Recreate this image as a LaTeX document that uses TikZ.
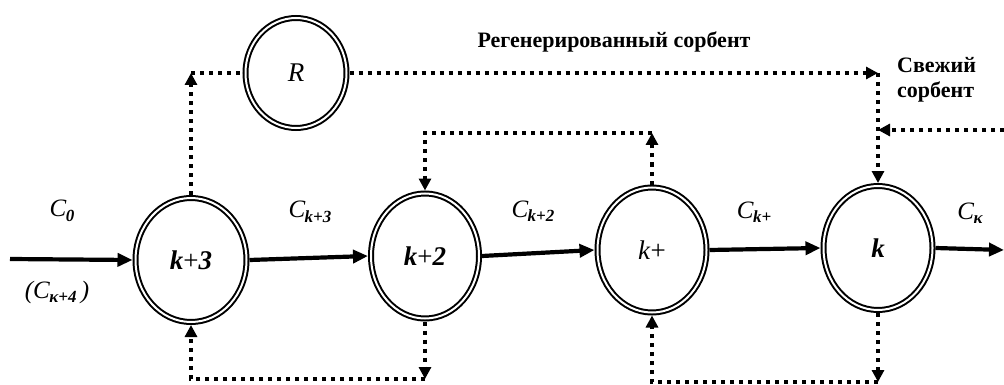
\documentclass[tikz,border=0pt]{standalone}
\usepackage{fontspec}
\setmainfont{Liberation Serif}
\usetikzlibrary{shapes.geometric,arrows.meta}
\newcommand\Clab[2][]{{\fontsize{25}{27}\selectfont\itshape #1C\kern-0.5pt\raisebox{-4.5pt}{\fontsize{17}{18}\selectfont\bfseries #2}}}
\begin{document}
\begin{tikzpicture}[x=1pt,y=-1pt,
  stage/.style={ellipse,draw,line width=2pt,double,double distance=2pt,inner sep=0pt,outer sep=3pt},
  flow/.style={line width=4.2pt,-{Triangle[length=15pt,width=13pt]}},
  dotl/.style={line width=4pt,dash pattern=on 4pt off 5pt},
  dotarr/.style={dotl,-{Triangle[length=12pt,width=12pt]}},
  lbl/.style={inner sep=0pt},
  ttl/.style={inner sep=0pt,font=\fontsize{22}{26}\selectfont\bfseries},
  nlab/.style={font=\fontsize{27}{29}\selectfont}]
\useasboundingbox (0,0) rectangle (1004,385);
% stages
\node[stage,minimum width=111pt,minimum height=124pt,nlab] (k3) at (191,260) {\textbf{\textit{k}}+\textbf{\textit{3}}};
\node[stage,minimum width=108pt,minimum height=125pt,nlab] (k2) at (425,256) {\textbf{\textit{k}}+\textbf{\textit{2}}};
\node[stage,minimum width=109pt,minimum height=125pt,nlab] (kp) at (652,250) {\textit{k}+};
\node[stage,minimum width=109pt,minimum height=124pt,nlab] (k) at (878,248) {\textbf{\textit{k}}};
\node[stage,minimum width=101pt,minimum height=110pt,font=\fontsize{27}{29}\selectfont] (R) at (296,73) {\textit{R}};
% main flow
\coordinate (in) at (10,259);
\coordinate (out) at (1004,250);
\draw[flow] (in) -- (k3.west);
\draw[flow] (k3.east) -- (k2.west);
\draw[flow] (k2.east) -- (kp.west);
\draw[flow] (kp.east) -- (k.west);
\draw[flow] (k.east) -- (out);
% sorbent loops
\coordinate (a1) at (191,73);
\coordinate (a2) at (878,73);
\coordinate (a3) at (878,130);
\coordinate (fr) at (1004,130);
\coordinate (b1) at (652,133);
\coordinate (b2) at (425,133);
\coordinate (c1) at (425,379);
\coordinate (c2) at (191,379);
\coordinate (d1) at (878,382);
\coordinate (d2) at (652,382);
\draw[dotarr] (k3.north) -- (a1);
\draw[dotl] (a1) -- (R.west);
\draw[dotarr] (R.east) -- (a2);
\draw[dotarr] (a2) -- (k.north);
\draw[dotarr] (fr) -- (a3);
\draw[dotarr] (kp.north) -- (b1);
\draw[dotarr] (b1) -- (b2) -- (k2.north);
\draw[dotarr] (k2.south) -- (c1);
\draw[dotarr] (c1) -- (c2) -- (k3.south);
\draw[dotarr] (k.south) -- (d1);
\draw[dotarr] (d1) -- (d2) -- (kp.south);
% labels
\node[lbl] (l0) at (62,211) {\Clab{\textit{0}}};
\node[lbl] (l4) at (57,292) {\Clab[(]{\textit{κ+4}}\fontsize{25}{27}\selectfont\itshape\,)};
\node[lbl] (l3) at (310,212) {\Clab{\textit{k+3}}};
\node[lbl] (l2) at (533,211) {\Clab{\textit{k+2}}};
\node[lbl] (l1) at (754,212) {\Clab{\textit{k+}}};
\node[lbl] (lk) at (970,213) {\Clab{\textit{κ}}};
\node[ttl] (t1) at (614,42) {Регенерированный сорбент};
\node[ttl,anchor=west] (t2) at (897,65) {Свежий};
\node[ttl,anchor=west] (t3) at (897,92) {сорбент};
\end{tikzpicture}
\end{document}
